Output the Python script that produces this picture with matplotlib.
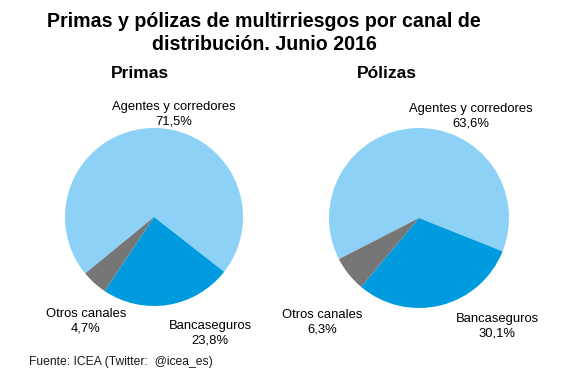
import matplotlib.pyplot as plt

plt.rcParams['font.family'] = ['Liberation Sans', 'DejaVu Sans']

canales = ['Agentes y corredores', 'Bancaseguros', 'Otros canales']
primas = [71.5, 23.8, 4.7]
polizas = [63.6, 30.1, 6.3]
colores = ['#8ED1F7', '#009BDF', '#767676']

W, H = 567, 379
fig = plt.figure(figsize=(W / 100, H / 100), dpi=100)
ax = fig.add_axes([0, 0, 1, 1])

# posiciones en pixeles (x, y desde arriba)
pies = [
    ('Primas', primas, (154, 217), 89, 219.4, (140, 73),
     [(174, 114), (210, 333), (86, 321)]),
    ('Pólizas', polizas, (419, 218), 90, 207.2, (387, 73),
     [(471, 116), (497, 326), (322, 322)]),
]

for titulo, valores, centro, r, ang, pos_tit, pos_lab in pies:
    ax.pie(valores, colors=colores, center=(centro[0], H - centro[1]), radius=r,
           startangle=ang, counterclock=False, wedgeprops=dict(linewidth=0))
    ax.text(pos_tit[0], H - pos_tit[1], titulo, ha='center', va='center',
            fontsize=12.5, fontweight='bold')
    for nombre, v, (x, y) in zip(canales, valores, pos_lab):
        txt = nombre + '\n' + ('%.1f%%' % v).replace('.', ',')
        ax.text(x, H - y, txt, ha='center', va='center', fontsize=9.4,
                linespacing=1.28)

ax.text(264, H - 33, 'Primas y pólizas de multirriesgos por canal de\ndistribución. Junio 2016',
        ha='center', va='center', fontsize=14.1, fontweight='bold', linespacing=1.25)
ax.text(29, H - 362, 'Fuente: ICEA (Twitter:  @icea_es)', ha='left', va='center',
        fontsize=8.7, color='#1a1a1a')

ax.set_xlim(0, W)
ax.set_ylim(0, H)
ax.set_aspect('equal')
ax.axis('off')

fig.savefig('out.png', dpi=100)
